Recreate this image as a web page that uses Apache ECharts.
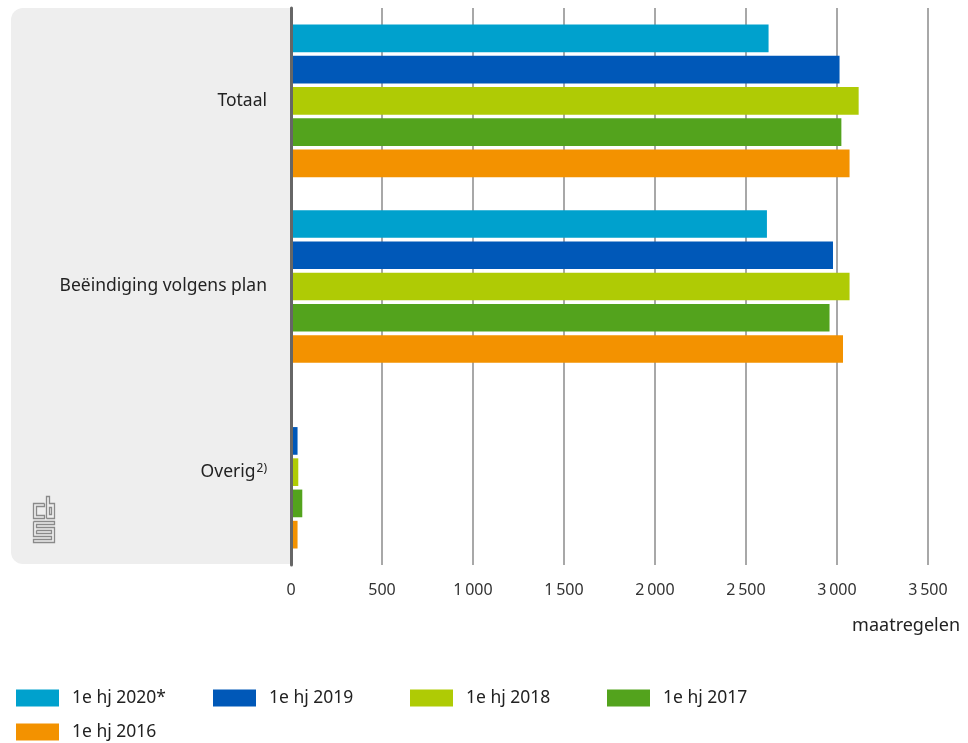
<!DOCTYPE html>
<html>
<head>
<meta charset="utf-8">
<script src="https://cdn.jsdelivr.net/npm/echarts@6/dist/echarts.min.js"></script>
<style>
  html, body { margin: 0; padding: 0; background: #fff; }
  #chart { width: 968px; height: 743px; }
</style>
</head>
<body>
<div id="chart"></div>
<script>
// categorieën (van boven naar beneden) en voetnoten
const categories = ['Totaal', 'Beëindiging volgens plan', 'Overig'];
const notes = ['', '', '2)'];

// reeksen
const seriesNames = ['1e hj 2020*', '1e hj 2019', '1e hj 2018', '1e hj 2017', '1e hj 2016'];
const hj2020 = [2624, 2615, 9];
const hj2019 = [3014, 2978, 36];
const hj2018 = [3119, 3069, 40];
const hj2017 = [3024, 2959, 62];
const hj2016 = [3069, 3033, 36];
const seriesColors = ['#00a1cd', '#0058b8', '#afcb05', '#53a31d', '#f39200'];

// x-as
const xTicks = [0, 500, 1000, 1500, 2000, 2500, 3000, 3500];
const xName = 'maatregelen';

const font = 'Noto Sans';
const chart = echarts.init(document.getElementById('chart'));

const allData = [hj2020, hj2019, hj2018, hj2017, hj2016];

const option = {
    animation: false,
    textStyle: { fontFamily: font },
    grid: { left: 291, right: 40, top: 8, bottom: 178 },
    graphic: [
        {
            type: 'rect', z: -10, silent: true,
            shape: { x: 11, y: 8, width: 280, height: 556, r: [12, 0, 0, 12] },
            style: { fill: '#eeeeee' }
        },
        {
            // cbs-logo (vereenvoudigd)
            type: 'group', left: 31, top: 494, silent: true,
            children: [
                { type: 'polyline', shape: { points: [[12, 8], [1, 8], [1, 23], [12, 23], [12, 20], [4, 20], [4, 11], [12, 11], [12, 8]] }, style: { stroke: '#8a8a8a', fill: null, lineWidth: 1.3 } },
                { type: 'polyline', shape: { points: [[14, 23], [14, 1], [17, 1], [17, 8], [22, 8], [22, 23], [14, 23]] }, style: { stroke: '#8a8a8a', fill: null, lineWidth: 1.3 } },
                { type: 'rect', shape: { x: 17, y: 12, width: 2, height: 7 }, style: { stroke: '#8a8a8a', fill: null, lineWidth: 1.3 } },
                { type: 'polyline', shape: { points: [[1, 26], [22, 26], [22, 29], [4, 29], [4, 32], [22, 32], [22, 47], [1, 47], [1, 44], [19, 44], [19, 41], [1, 41], [1, 26]] }, style: { stroke: '#8a8a8a', fill: null, lineWidth: 1.3 } },
                { type: 'polyline', shape: { points: [[4, 35], [19, 35], [19, 38], [4, 38], [4, 35]] }, style: { stroke: '#8a8a8a', fill: null, lineWidth: 1.3 } }
            ]
        }
    ],
    legend: {
        left: 11, top: 684, right: 100,
        itemWidth: 43, itemHeight: 17, itemGap: 16,
        icon: 'rect',
        data: seriesNames,
        textStyle: {
            fontFamily: font, fontSize: 17.5, color: '#222',
            width: 125, padding: [0, 0, 0, 8], lineHeight: 17
        }
    },
    xAxis: {
        type: 'value',
        min: 0, max: 3500, interval: 500,
        name: xName,
        nameLocation: 'end',
        nameGap: 0,
        nameTextStyle: {
            fontFamily: font, fontSize: 18, color: '#222',
            align: 'right', verticalAlign: 'top',
            padding: [52, -32, 0, 0]
        },
        axisLine: { show: false },
        axisTick: { show: false },
        splitLine: { lineStyle: { color: '#a8a8a8', width: 2 } },
        axisLabel: {
            margin: 17, fontSize: 16, color: '#333', fontFamily: font,
            formatter: v => xTicks.includes(v) ? String(v).replace(/\B(?=(\d{3})+(?!\d))/g, '\u2009') : ''
        }
    },
    yAxis: {
        type: 'category',
        inverse: true,
        z: 5,
        data: categories,
        axisLine: { lineStyle: { color: '#666', width: 3 } },
        axisTick: { show: false },
        axisLabel: {
            margin: 24, fontSize: 17.5, color: '#222', fontFamily: font,
            formatter: (v, i) => notes[i] ? v + '{sup|' + notes[i] + '}' : v,
            rich: { sup: { fontSize: 12, verticalAlign: 'top', padding: [0, 0, 8, 1], color: '#222', fontFamily: font } }
        }
    },
    series: seriesNames.map((name, i) => ({
        name: name,
        type: 'bar',
        data: allData[i],
        barWidth: 27.7,
        barGap: '12.8%',
        itemStyle: { color: seriesColors[i] }
    }))
};

chart.setOption(option);
window.addEventListener('resize', () => chart.resize());
</script>
</body>
</html>
